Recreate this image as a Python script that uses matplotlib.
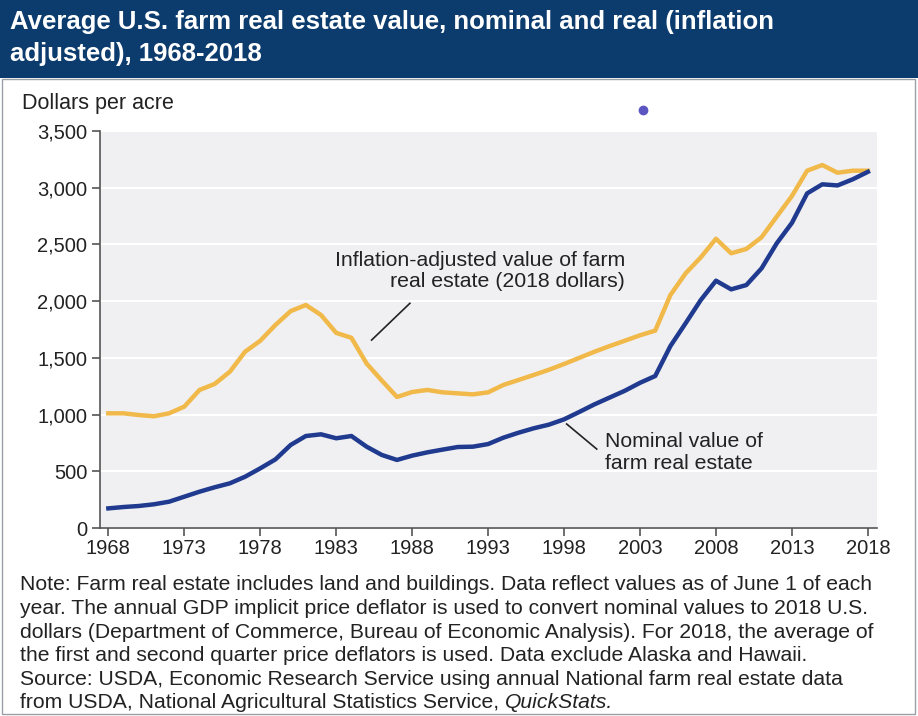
import matplotlib
matplotlib.use("Agg")
import matplotlib.pyplot as plt
from matplotlib.patches import Rectangle
from matplotlib.ticker import FuncFormatter

plt.rcParams['font.family'] = ['Liberation Sans', 'DejaVu Sans']

years = list(range(1968, 2019))
nominal = [173, 185, 194, 209, 232, 276, 320, 359, 394, 452, 526, 605, 732,
           811, 826, 791, 811, 717, 644, 600, 638, 667, 691, 714, 717, 740,
           796, 840, 879, 911, 958, 1023, 1090, 1150, 1210, 1280, 1340, 1604,
           1805, 2010, 2180, 2104, 2142, 2289, 2510, 2690, 2950, 3030, 3020,
           3074, 3140]
real = [1011, 1011, 996, 985, 1011, 1070, 1217, 1270, 1378, 1554, 1651, 1790,
        1912, 1966, 1878, 1720, 1677, 1450, 1300, 1155, 1199, 1217, 1196, 1187,
        1178, 1196, 1261, 1305, 1349, 1395, 1446, 1500, 1554, 1604, 1651, 1699,
        1740, 2054, 2245, 2386, 2550, 2422, 2460, 2563, 2745, 2927, 3150, 3200,
        3132, 3150, 3150]
xticks = list(range(1968, 2019, 5))
yticks = list(range(0, 3501, 500))

title_lines = ["Average U.S. farm real estate value, nominal and real (inflation",
               "adjusted), 1968-2018"]
ylabel = "Dollars per acre"
real_label = "Inflation-adjusted value of farm\nreal estate (2018 dollars)"
nom_label = "Nominal value of\nfarm real estate"
note_lines = [
    "Note: Farm real estate includes land and buildings. Data reflect values as of June 1 of each",
    "year. The annual GDP implicit price deflator is used to convert nominal values to 2018 U.S.",
    "dollars (Department of Commerce, Bureau of Economic Analysis). For 2018, the average of",
    "the first and second quarter price deflators is used. Data exclude Alaska and Hawaii.",
    "Source: USDA, Economic Research Service using annual National farm real estate data",
    "from USDA, National Agricultural Statistics Service, ",
]
note_italic = "QuickStats."

W, H = 918, 716
fig = plt.figure(figsize=(W/100, H/100), dpi=100)
fig.patch.set_facecolor('white')

def fx(px): return px / W
def fy(py): return 1 - py / H

# banner
fig.patches.append(Rectangle((0, fy(78)), 1, 78/H, transform=fig.transFigure,
                             facecolor='#0c3b6d', edgecolor='none', zorder=0))
for i, line in enumerate(title_lines):
    fig.text(fx(10), fy(22 + 32 * i), line, color='white', fontsize=18.5,
             fontweight='bold', va='center', ha='left')

ax = fig.add_axes([fx(100), fy(528), fx(877) - fx(100), (528 - 131) / H])
ax.set_facecolor('#f0f0f2')
ax.plot(years, real, color='#f1b94a', lw=3.2, solid_joinstyle='round', zorder=3)
ax.plot(years, nominal, color='#1f3a8e', lw=3.2, solid_joinstyle='round', zorder=4)
ax.set_xlim(1967.45, 2018.6)
ax.set_ylim(0, 3500)
ax.set_xticks(xticks)
ax.set_yticks(yticks)
ax.yaxis.set_major_formatter(FuncFormatter(lambda v, p: f"{int(v):,}"))
ax.grid(axis='y', color='white', lw=1.5, zorder=1)
ax.set_axisbelow(True)
for s in ['top', 'right']:
    ax.spines[s].set_visible(False)
for s in ['left', 'bottom']:
    ax.spines[s].set_color('#555555')
    ax.spines[s].set_linewidth(1.2)
ax.tick_params(axis='both', colors='#555555', labelcolor='#222222', labelsize=14.5,
               length=6, width=1.2, direction='out')
ax.tick_params(axis='x', pad=2)
ax.tick_params(axis='y', pad=3)

# annotations
ax.text(2002.0, 2440, real_label, fontsize=15.3, color='#222222', ha='right', va='top',
        linespacing=1.15)
ax.plot([1985.33, 1987.85], [1657, 1981], color='#222222', lw=1.2)
ax.text(2000.7, 850, nom_label, fontsize=15.3, color='#222222', ha='left', va='top',
        linespacing=1.2)
ax.plot([1998.17, 2000.15], [917, 696], color='#222222', lw=1.2)

fig.text(fx(22), fy(103), ylabel, fontsize=15.5, color='#222222', va='center', ha='left')
fig.add_artist(plt.Line2D([fx(643)], [fy(110)], marker='o', markersize=6,
                          color='#5a55c0', transform=fig.transFigure))

last = None
for i, line in enumerate(note_lines):
    last = fig.text(fx(20), fy(585 + 23.6 * i), line, fontsize=15.2, color='#222222',
                    va='center', ha='left')
fig.canvas.draw()
lb = last.get_window_extent()
fig.text(lb.x1 / W, fy(585 + 23.6 * 5), note_italic, fontsize=15.2, color='#222222',
         va='center', ha='left', style='italic')

fig.patches.append(Rectangle((fx(1.5), fy(714)), fx(913), fy(79) - fy(714),
                             transform=fig.transFigure, facecolor='none',
                             edgecolor='#9aa0a8', lw=1))
fig.savefig('out.png', dpi=100)
